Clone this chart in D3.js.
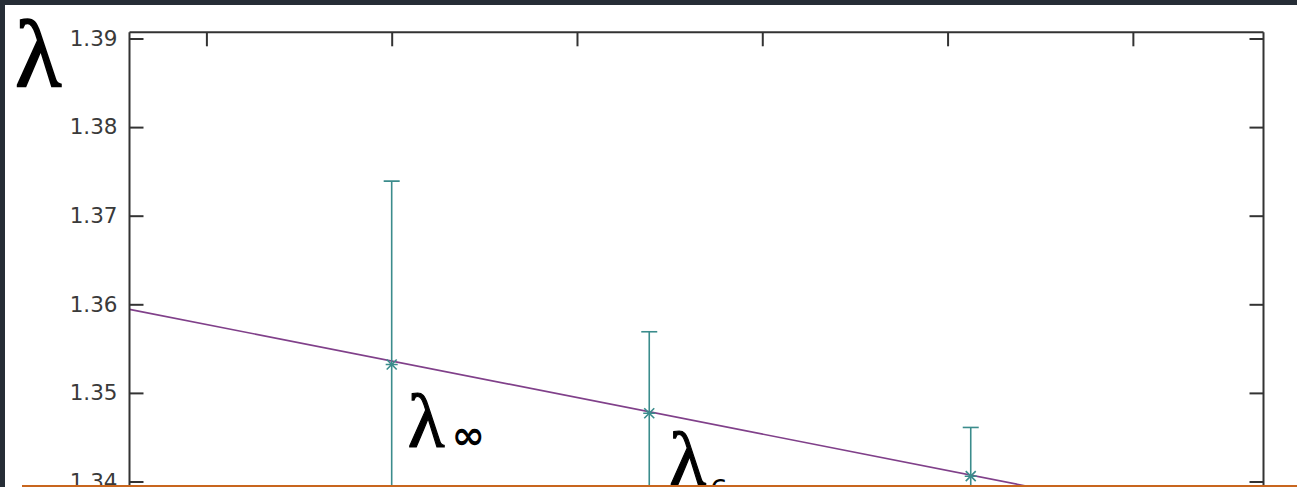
<!DOCTYPE html>
<html>
<head>
<meta charset="utf-8">
<script src="https://cdn.jsdelivr.net/npm/d3@7"></script>
<style>
  html, body { margin: 0; padding: 0; background: #262d36; }
  svg { display: block; }
</style>
</head>
<body>
<svg id="chart" width="1297" height="487"></svg>
<script>
// Extrapolation of lambda against 1/N^2
const xValues = [0, 0.0278, 0.0625];
const lambdaValues = [1.3532, 1.3477, 1.3406];
const lambdaErrors = [0.0207, 0.0092, 0.0055];
const pointSubscripts = ["\u221E", "6", ""];

const yTicks = [1.34, 1.35, 1.36, 1.37, 1.38, 1.39];
const yTickLabels = ["1.34", "1.35", "1.36", "1.37", "1.38", "1.39"];
const xTicks = [-0.02, 0, 0.02, 0.04, 0.06, 0.08];

// linear fit: lambda = fitIntercept + fitSlope * x
const fitIntercept = 1.3536;
const fitSlope = -0.206;

const xDomain = [-0.0283, 0.0941];
const yTop = 1.3907;

const svg = d3.select("#chart");
const W = 1297, H = 487;

const frame = { left: 129.5, right: 1263.5 };
const x = d3.scaleLinear().domain(xDomain).range([frame.left, frame.right]);
const y = d3.scaleLinear().domain([1.34, 1.39]).range([481.5, 38.5]);
const frameTop = y(yTop);

const serif = "'Liberation Serif', 'Times New Roman', serif";
const sans = "'DejaVu Sans', Verdana, sans-serif";

// page background
svg.append("rect").attr("x", 5).attr("y", 5).attr("width", W - 5).attr("height", H - 5).attr("fill", "#ffffff");

svg.append("clipPath").attr("id", "plotClip")
  .append("rect").attr("x", frame.left).attr("y", frameTop)
  .attr("width", frame.right - frame.left).attr("height", H - frameTop);

const ink = "#333333";
const tickLen = 14;

// fit line
const fitLine = d3.line().x(d => x(d)).y(d => y(fitIntercept + fitSlope * d));
svg.append("path")
  .datum(xDomain)
  .attr("d", fitLine)
  .attr("clip-path", "url(#plotClip)")
  .attr("fill", "none")
  .attr("stroke", "#80408a")
  .attr("stroke-width", 1.6);

// error bars with point markers
const pts = xValues.map((v, i) => ({ x: v, y: lambdaValues[i], e: lambdaErrors[i], sub: pointSubscripts[i] }));
const bars = svg.append("g").attr("clip-path", "url(#plotClip)")
  .attr("stroke", "#3b8c8c").attr("stroke-width", 1.6).attr("fill", "none");
pts.forEach(p => {
  const cx = x(p.x);
  bars.append("line").attr("x1", cx).attr("x2", cx).attr("y1", y(p.y + p.e)).attr("y2", y(p.y - p.e));
  bars.append("line").attr("x1", cx - 8).attr("x2", cx + 8).attr("y1", y(p.y + p.e)).attr("y2", y(p.y + p.e));
  bars.append("line").attr("x1", cx - 8).attr("x2", cx + 8).attr("y1", y(p.y - p.e)).attr("y2", y(p.y - p.e));
  const cy = y(p.y), s = 5;
  bars.append("path").attr("d", `M${cx - s},${cy - s}L${cx + s},${cy + s}M${cx - s},${cy + s}L${cx + s},${cy - s}M${cx - s - 1},${cy}L${cx + s + 1},${cy}`);
});

// point labels
const labels = svg.append("g").attr("fill", "#000");
const labelOffsets = [[16, 82], [20, 72]];
pts.forEach((p, i) => {
  if (!p.sub) return;
  const t = labels.append("text")
    .attr("x", x(p.x) + labelOffsets[i][0])
    .attr("y", y(p.y) + labelOffsets[i][1]);
  t.append("tspan").attr("font-family", serif).attr("font-size", 76)
    .attr("stroke", "#000").attr("stroke-width", 1.2).text("\u03BB");
  const inf = p.sub === "\u221E";
  t.append("tspan").attr("font-family", sans)
    .attr("font-size", inf ? 40 : 28)
    .attr("font-weight", inf ? "bold" : "normal")
    .attr("dx", inf ? 7 : 4)
    .attr("dy", inf ? 2 : 15)
    .text(p.sub);
});

// frame
svg.append("line").attr("x1", frame.left).attr("x2", frame.right).attr("y1", frameTop).attr("y2", frameTop).attr("stroke", ink).attr("stroke-width", 2);
svg.append("line").attr("x1", frame.left).attr("x2", frame.left).attr("y1", frameTop).attr("y2", H).attr("stroke", ink).attr("stroke-width", 2);
svg.append("line").attr("x1", frame.right).attr("x2", frame.right).attr("y1", frameTop).attr("y2", H).attr("stroke", ink).attr("stroke-width", 2);

// left axis with labels
const yAxisLeft = d3.axisLeft(y).tickValues(yTicks).tickFormat((d, i) => yTickLabels[i]).tickSize(-tickLen).tickPadding(12);
const gl = svg.append("g").attr("transform", `translate(${frame.left},0)`).call(yAxisLeft);
gl.select(".domain").remove();
gl.selectAll(".tick line").attr("stroke", ink).attr("stroke-width", 2);
gl.selectAll(".tick text").attr("font-family", sans).attr("font-size", 21.5).attr("fill", "#3a3a3a");

// right axis mirrored ticks
const yAxisRight = d3.axisRight(y).tickValues(yTicks).tickFormat("").tickSize(-tickLen);
const gr = svg.append("g").attr("transform", `translate(${frame.right},0)`).call(yAxisRight);
gr.select(".domain").remove();
gr.selectAll(".tick line").attr("stroke", ink).attr("stroke-width", 2);

// top axis mirrored ticks
const xAxisTop = d3.axisTop(x).tickValues(xTicks).tickFormat("").tickSize(-tickLen);
const gt = svg.append("g").attr("transform", `translate(0,${frameTop})`).call(xAxisTop);
gt.select(".domain").remove();
gt.selectAll(".tick line").attr("stroke", ink).attr("stroke-width", 2);

// axis title
svg.append("text").attr("x", 15).attr("y", 86)
  .attr("font-family", serif).attr("font-size", 96).attr("fill", "#000")
  .attr("stroke", "#000").attr("stroke-width", 1.5)
  .text("\u03BB");

// bottom rule
svg.append("line").attr("x1", 22).attr("x2", W).attr("y1", 486).attr("y2", 486).attr("stroke", "#c8661e").attr("stroke-width", 2);
</script>
</body>
</html>
